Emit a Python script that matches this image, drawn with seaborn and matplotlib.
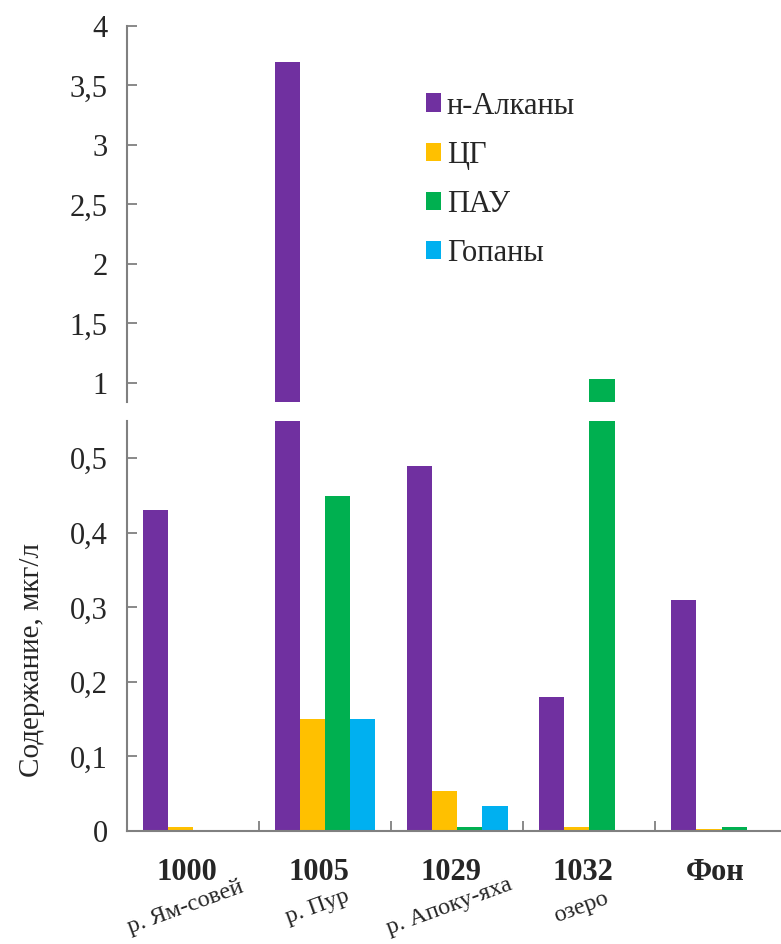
import pandas as pd
import matplotlib
matplotlib.use("Agg")
import matplotlib.pyplot as plt
import matplotlib.ticker as mticker
from matplotlib.patches import Patch
from matplotlib.transforms import blended_transform_factory
import seaborn as sb

# Data
sites = ["1000", "1005", "1029", "1032", "Фон"]
rivers = ["р. Ям-совей", "р. Пур", "р. Апоку-яха", "озеро", ""]
series = ["н-Алканы", "ЦГ", "ПАУ", "Гопаны"]
alkanes = [0.43, 3.70, 0.49, 0.18, 0.31]
cg = [0.006, 0.15, 0.054, 0.005, 0.003]
pah = [0.0, 0.45, 0.006, 1.03, 0.005]
hopanes = [0.0, 0.15, 0.033, 0.0, 0.0]
colors = ["#7030A0", "#FFC000", "#00B050", "#00B0F0"]

rows = []
for name, vals in zip(series, [alkanes, cg, pah, hopanes]):
    for s, v in zip(sites, vals):
        rows.append({"site": s, "series": name, "value": v})
df = pd.DataFrame(rows)

sb.set_style("white")
plt.rcParams["font.family"] = "serif"
plt.rcParams["font.serif"] = ["Liberation Serif", "DejaVu Serif"]

W, H = 781, 944
fig = plt.figure(figsize=(W / 100, H / 100), dpi=100)
left = 127 / W
width = 1 - left
ax_top = fig.add_axes([left, 1 - 402 / H, width, (402 - 26) / H])
ax_bot = fig.add_axes([left, 1 - 831 / H, width, (831 - 421) / H])

for ax in (ax_top, ax_bot):
    sb.barplot(data=df, x="site", y="value", hue="series", hue_order=series,
               palette=colors, width=0.76, saturation=1, legend=False,
               linewidth=0, ax=ax)
    ax.set_xlim(-0.5, 4.45)
    ax.set_xlabel("")
    ax.set_ylabel("")
    for sp in ["top", "right"]:
        ax.spines[sp].set_visible(False)
    ax.spines["left"].set_color("#808080")
    ax.spines["left"].set_linewidth(1.5)
    ax.tick_params(axis="y", direction="in", length=7, width=1.3, color="#808080",
                   labelsize=22, pad=14, left=True)

fmt = mticker.FuncFormatter(lambda v, p: ("%g" % v).replace(".", ","))

ax_top.set_ylim(0.84, 4)
ax_top.set_yticks([1, 1.5, 2, 2.5, 3, 3.5, 4])
ax_top.yaxis.set_major_formatter(fmt)
ax_top.spines["bottom"].set_visible(False)
ax_top.set_xticks([])

ax_bot.set_ylim(0, 0.55)
ax_bot.set_yticks([0, 0.1, 0.2, 0.3, 0.4, 0.5])
ax_bot.yaxis.set_major_formatter(fmt)
ax_bot.spines["bottom"].set_color("#808080")
ax_bot.spines["bottom"].set_linewidth(1.5)
ax_bot.set_xticks(range(5))
ax_bot.set_xticklabels([])
ax_bot.tick_params(axis="x", which="major", length=0)
ax_bot.set_xticks([0.5, 1.5, 2.5, 3.5], minor=True)
ax_bot.tick_params(axis="x", which="minor", direction="in", length=7, width=1.3,
                   color="#808080", bottom=True)

# Category labels below the axis
tr = blended_transform_factory(ax_bot.transData, fig.transFigure)
for i, (s, r) in enumerate(zip(sites, rivers)):
    ax_bot.text(i - 0.05, 1 - 872 / H, s, transform=tr, ha="center", va="center",
                fontsize=22, fontweight="bold")
    if r:
        ax_bot.text(i - 0.06, 1 - 907 / H, r, transform=tr, ha="center", va="center",
                    fontsize=17.5, rotation=20, rotation_mode="anchor")

fig.text(32 / W, 1 - 660 / H, "Содержание, мкг/л", rotation=90, ha="center",
         va="center", fontsize=21)

handles = [Patch(facecolor=c, edgecolor="none") for c in colors]
fig.legend(handles, series, loc="upper left", bbox_to_anchor=(398 / W, 1 - 64 / H),
           frameon=False, fontsize=22, handlelength=0.5, handleheight=0.55,
           handletextpad=0.2, labelspacing=0.66)

plt.savefig("out.png", dpi=100)
print("Saved image!")
